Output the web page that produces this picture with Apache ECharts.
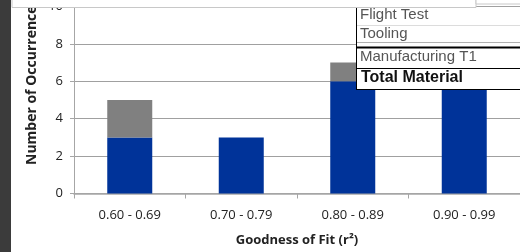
<!DOCTYPE html>
<html lang="en">
  <head>
    <meta charset="UTF-8" />
    <title>Goodness of Fit</title>
    <script src="https://cdn.jsdelivr.net/npm/echarts@6/dist/echarts.min.js"></script>
    <style>
      html, body { margin: 0; padding: 0; background: #fff; }
    </style>
  </head>
  <body>
    <div id="fitChart" style="width: 520px; height: 252px"></div>
    <script>
      // categories (r^2 bins)
      const categories = ['0.60 - 0.69', '0.70 - 0.79', '0.80 - 0.89', '0.90 - 0.99']
      // blue part of each bar
      const baseCounts = [3, 3, 6, 6]
      // grey part stacked on top
      const extraCounts = [2, 0, 1, 0]
      // y axis ticks
      const yMin = 0
      const yMax = 10
      const yStep = 2
      // the drop-down list that sits over the chart
      const menuItems = ['Flight Test', 'Tooling', 'Manufacturing T1', 'Total Material']

      const chart = echarts.init(document.getElementById('fitChart'))

      const labelFont = "'Open Sans', sans-serif"
      const menuFont = "'Liberation Sans', Arial, sans-serif"

      const option = {
        animation: false,
        grid: { left: 74, right: 0, top: 6, bottom: 58.5 },
        xAxis: {
          type: 'category',
          data: categories,
          name: 'Goodness of Fit (r²)',
          nameLocation: 'middle',
          nameGap: 40,
          nameTextStyle: { fontFamily: labelFont, fontWeight: 'bold', fontSize: 13, color: '#222' },
          axisLine: { lineStyle: { color: '#a6a6a6', width: 1.5 } },
          axisTick: { show: true, length: 5, lineStyle: { color: '#a6a6a6' } },
          axisLabel: { fontFamily: labelFont, fontSize: 13, color: '#222', margin: 15 },
        },
        yAxis: {
          type: 'value',
          min: yMin,
          max: yMax,
          interval: yStep,
          axisLine: { show: true, lineStyle: { color: '#a6a6a6' } },
          axisTick: { show: true, length: 4, lineStyle: { color: '#a6a6a6' } },
          axisLabel: { fontFamily: labelFont, fontSize: 13, color: '#222', margin: 11 },
          splitLine: { lineStyle: { color: '#a0a0a0' } },
        },
        series: [
          {
            name: 'Base',
            type: 'bar',
            stack: 'total',
            barWidth: 45,
            itemStyle: { color: '#003399' },
            data: baseCounts,
          },
          {
            name: 'Extra',
            type: 'bar',
            stack: 'total',
            barWidth: 45,
            itemStyle: { color: '#808080' },
            data: extraCounts,
          },
        ],
        graphic: [
          // dark strip on the left edge
          { type: 'rect', left: 0, top: 0, shape: { width: 11, height: 252 }, style: { fill: '#3b3b3b' }, z: 100 },
          // y axis title
          {
            type: 'text',
            x: 32,
            y: 165,
            rotation: Math.PI / 2,
            style: {
              text: 'Number of Occurrences',
              fontFamily: labelFont,
              fontWeight: 'bold',
              fontSize: 14,
              fill: '#222',
              textAlign: 'left',
              textVerticalAlign: 'middle',
            },
            z: 100,
          },
          // popup strip at the top
          { type: 'rect', shape: { x: 12, y: -2, width: 464, height: 9.5 }, style: { fill: '#fff', stroke: '#c8c8c8', lineWidth: 1 }, z: 100 },
          { type: 'rect', shape: { x: 476, y: -2, width: 46, height: 6 }, style: { fill: '#fff', stroke: '#c8c8c8', lineWidth: 1 }, z: 100 },
          // drop-down list box (no top edge)
          { type: 'rect', shape: { x: 356, y: 8, width: 166, height: 82 }, style: { fill: '#fff' }, z: 101 },
          { type: 'line', shape: { x1: 356.5, y1: 8, x2: 356.5, y2: 90 }, style: { stroke: '#000', lineWidth: 1 }, z: 102 },
          { type: 'line', shape: { x1: 356, y1: 89.5, x2: 520, y2: 89.5 }, style: { stroke: '#000', lineWidth: 1 }, z: 102 },
          { type: 'line', shape: { x1: 357, y1: 25.5, x2: 520, y2: 25.5 }, style: { stroke: '#dcdcdc', lineWidth: 1 }, z: 102 },
          { type: 'line', shape: { x1: 357, y1: 42.5, x2: 520, y2: 42.5 }, style: { stroke: '#b0b0b0', lineWidth: 1 }, z: 102 },
          { type: 'line', shape: { x1: 357, y1: 47.5, x2: 520, y2: 47.5 }, style: { stroke: '#000', lineWidth: 2 }, z: 102 },
          { type: 'line', shape: { x1: 357, y1: 68.5, x2: 520, y2: 68.5 }, style: { stroke: '#000', lineWidth: 1 }, z: 102 },
          { type: 'text', x: 360, y: 15, style: { text: menuItems[0], fontFamily: menuFont, fontSize: 15, fill: '#555', textVerticalAlign: 'middle' }, z: 103 },
          { type: 'text', x: 360, y: 34, style: { text: menuItems[1], fontFamily: menuFont, fontSize: 15, fill: '#555', textVerticalAlign: 'middle' }, z: 103 },
          { type: 'text', x: 360, y: 57, style: { text: menuItems[2], fontFamily: menuFont, fontSize: 15, fill: '#555', textVerticalAlign: 'middle' }, z: 103 },
          { type: 'text', x: 361, y: 78, style: { text: menuItems[3], fontFamily: menuFont, fontSize: 16, fontWeight: 'bold', fill: '#111', textVerticalAlign: 'middle' }, z: 103 },
        ],
      }

      chart.setOption(option)
    </script>
  </body>
</html>
